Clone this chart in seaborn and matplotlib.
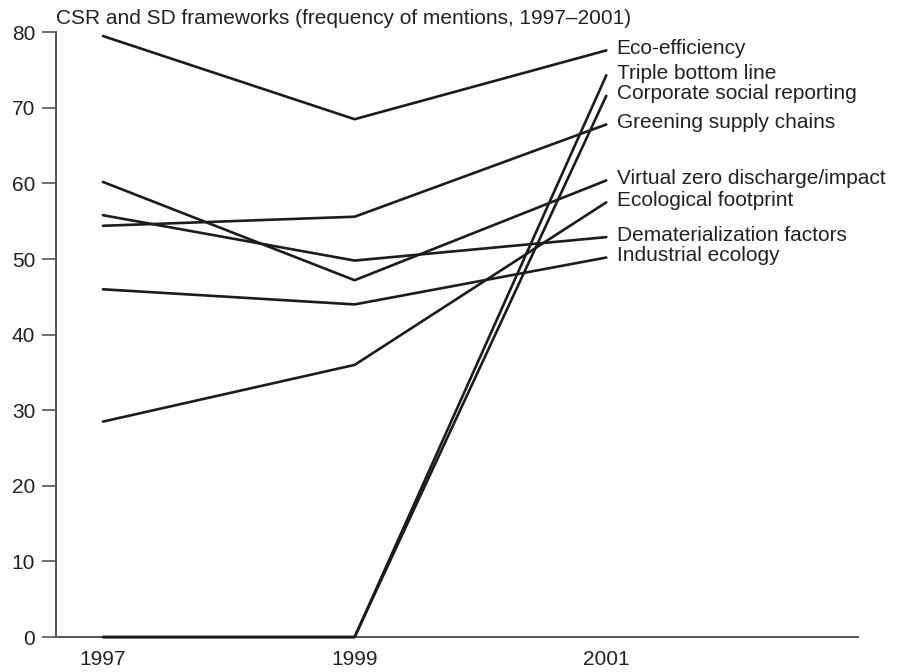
import pandas as pd
import matplotlib.pyplot as plt
import seaborn as sns

sns.set_style("ticks")
plt.rcParams['font.family'] = ['Liberation Sans', 'DejaVu Sans']

years = [1997, 1999, 2001]
frameworks = [
    "Eco-efficiency",
    "Triple bottom line",
    "Corporate social reporting",
    "Greening supply chains",
    "Virtual zero discharge/impact",
    "Ecological footprint",
    "Dematerialization factors",
    "Industrial ecology",
]
eco_efficiency = [79.5, 68.5, 77.6]
triple_bottom = [0, 0, 74.3]
corporate_social = [0, 0, 71.6]
greening_supply = [54.4, 55.6, 67.8]
virtual_zero = [60.2, 47.2, 60.4]
ecological_fp = [28.5, 36.0, 57.5]
dematerialization = [55.8, 49.8, 52.9]
industrial_ecology = [46.0, 44.0, 50.2]

series = [eco_efficiency, triple_bottom, corporate_social, greening_supply,
          virtual_zero, ecological_fp, dematerialization, industrial_ecology]

rows = []
for name, vals in zip(frameworks, series):
    for yr, v in zip(years, vals):
        rows.append({'year': yr, 'mentions': v, 'framework': name})
df = pd.DataFrame(rows)

fig = plt.figure(figsize=(8.98, 6.72), dpi=100)
ax = fig.add_axes([0.0624, 0.052, 0.893, 0.9])

line_col = '#1c1c1c'
sns.lineplot(data=df, x='year', y='mentions', hue='framework',
             palette=[line_col] * len(frameworks), linewidth=1.9,
             legend=False, ax=ax, clip_on=False, zorder=3)

fs = 15
# labels at the right end of each line
for name, vals in zip(frameworks, series):
    ax.annotate(name, xy=(2001, vals[-1]), xytext=(7.5, 1.5),
                textcoords='offset points', fontsize=fs, color='#222222',
                va='center', ha='left')

ax.set_xlim(1996.627, 2003.0)
ax.set_ylim(0, 80)
ax.set_xticks(years)
ax.set_yticks(range(0, 81, 10))
ax.set_xlabel("")
ax.set_ylabel("")
ax.tick_params(axis='x', length=0, pad=9, labelsize=fs, colors='#222222')
ax.tick_params(axis='y', length=10, width=1.2, pad=5, labelsize=fs,
               colors='#222222', color='#555555')
for s in ['top', 'right']:
    ax.spines[s].set_visible(False)
for s in ['left', 'bottom']:
    ax.spines[s].set_color('#555555')
    ax.spines[s].set_linewidth(1.4)

ax.text(0.0, 1.023, "CSR and SD frameworks (frequency of mentions, 1997\u20132001)",
        transform=ax.transAxes, fontsize=fs, color='#222222',
        ha='left', va='center')

fig.savefig("out.png", dpi=100)
